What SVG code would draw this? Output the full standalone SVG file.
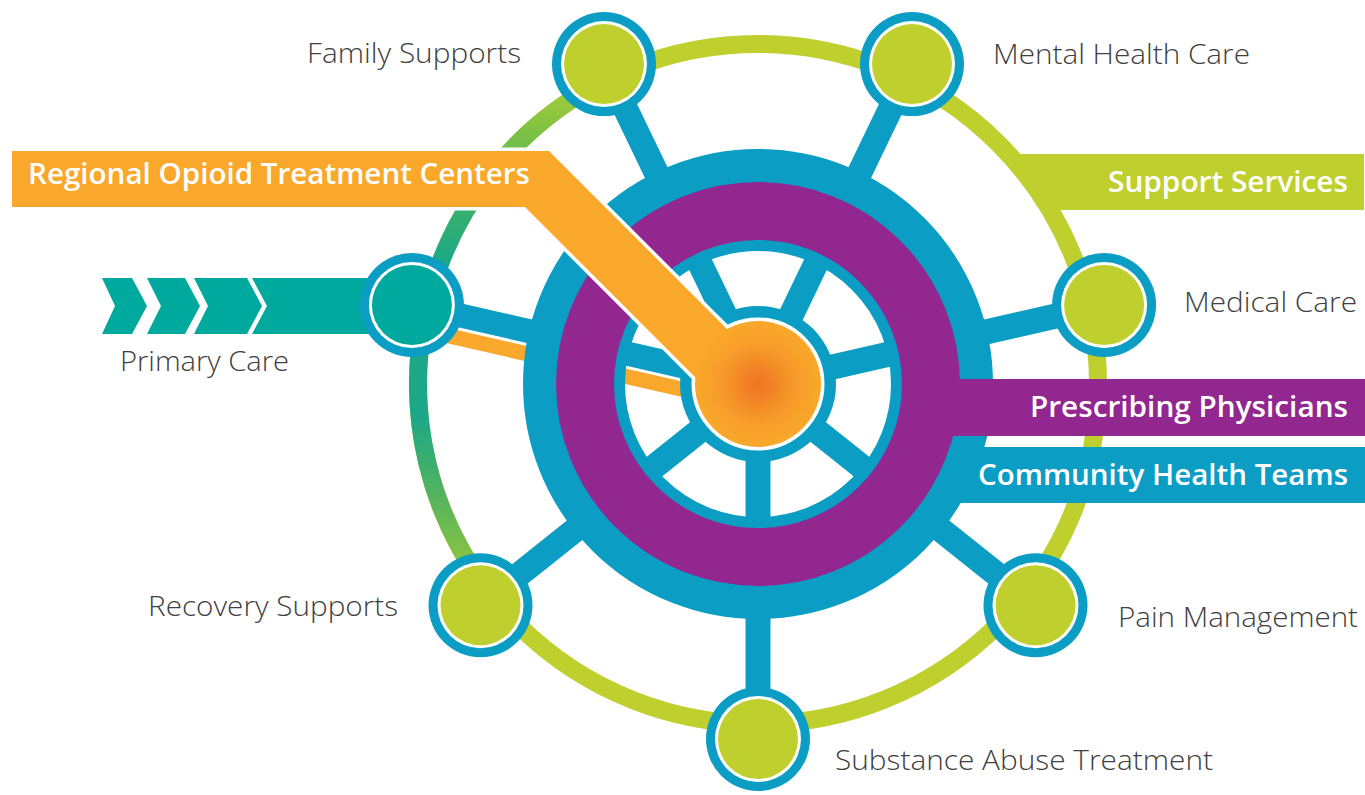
<svg xmlns="http://www.w3.org/2000/svg" width="1365" height="795" viewBox="0 0 1365 795">
<defs>
<linearGradient id="arcGrad" gradientUnits="userSpaceOnUse" x1="0" y1="84" x2="0" y2="589">
<stop offset="0" stop-color="#a8cd38"/>
<stop offset="0.09" stop-color="#80c242"/>
<stop offset="0.23" stop-color="#3cb26a"/>
<stop offset="0.36" stop-color="#1ba889"/>
<stop offset="0.66" stop-color="#1ca888"/>
<stop offset="0.82" stop-color="#55b45c"/>
<stop offset="1" stop-color="#a2ca3a"/>
</linearGradient>
<radialGradient id="hubGrad" cx="0.5" cy="0.5" r="0.5">
<stop offset="0" stop-color="#ee7322"/>
<stop offset="0.65" stop-color="#f79e2a"/>
<stop offset="1" stop-color="#f9a82b"/>
</radialGradient>
<style>
.blue{fill:#0b9dc4}
.lime{fill:#bfd02e}
.spoke{stroke:#0b9dc4;stroke-width:25;stroke-linecap:butt;fill:none}
.lbl{font-family:"Open Sans","Liberation Sans",sans-serif;font-weight:300;font-size:28px;fill:#404040}
.bar{font-family:"Open Sans","Liberation Sans",sans-serif;font-weight:600;font-size:29px;fill:#ffffff}
.nodeOuter{fill:#0b9dc4}
.nodeWhite{fill:#ffffff}
</style>
</defs>
<rect width="1365" height="795" fill="#ffffff"/>

<!-- outer ring -->
<g id="outer-ring">
<circle cx="758" cy="384" r="340" fill="none" stroke="#bfd02e" stroke-width="18"/>
<path d="M598.4,83.8 A340,340 0 0 0 486.5,588.6" fill="none" stroke="url(#arcGrad)" stroke-width="18"/>
</g>

<g id="support-services">
<polygon class="lime" points="1008,154 1364,154 1364,210 1050,210"/>
<text class="bar" x="1108" y="192" textLength="240" lengthAdjust="spacingAndGlyphs">Support Services</text>
</g>

<g id="primary-care-arrow">
<polygon fill="#00a99d" points="102,278 132,278 147,306 132,334 102,334 115,306"/>
<polygon fill="#00a99d" points="147,278 185,278 200,306 185,334 147,334 161,306"/>
<polygon fill="#00a99d" points="194,278 247,278 262,306 247,334 194,334 208,306"/>
<polygon fill="#00a99d" points="252,278 412,278 412,334 252,334 267,306"/>
</g>

<g id="connectors">
<line class="spoke" x1="758" y1="384" x2="758" y2="739"/>
<line class="spoke" x1="758" y1="384" x2="1035.5" y2="605.3"/>
<line class="spoke" x1="758" y1="384" x2="1104.1" y2="305"/>
<line class="spoke" x1="758" y1="384" x2="912" y2="64.1"/>
<line class="spoke" x1="758" y1="384" x2="604" y2="64.1"/>
<line class="spoke" x1="758" y1="384" x2="411.9" y2="305"/>
<line class="spoke" x1="758" y1="384" x2="480.5" y2="605.3"/>
<line x1="407.1" y1="326.4" x2="753.1" y2="405.4" stroke="#ffffff" stroke-width="21"/>
<line x1="407.1" y1="326.4" x2="753.1" y2="405.4" stroke="#f9a82b" stroke-width="15"/>
</g>

<g id="community-health-teams">
<rect class="blue" x="940" y="447" width="425" height="56"/>
<circle cx="758" cy="384" r="184" fill="none" stroke="#0b9dc4" stroke-width="102"/>
<text class="bar" x="978" y="485" textLength="370" lengthAdjust="spacingAndGlyphs">Community Health Teams</text>
</g>

<g id="prescribing-physicians">
<circle cx="758" cy="384" r="173" fill="none" stroke="#92278f" stroke-width="58"/>
<rect x="925" y="379" width="440" height="57" fill="#92278f"/>
<text class="bar" x="1030" y="417" textLength="318" lengthAdjust="spacingAndGlyphs">Prescribing Physicians</text>
</g>

<g id="regional-opioid-treatment-centers">
<circle cx="758" cy="384" r="78" class="blue"/>
<g fill="#ffffff" stroke="#ffffff" stroke-width="7" stroke-linejoin="miter">
<polygon points="12,151 549,151 745,347 700,382 525,207 12,207"/>
<circle cx="758" cy="384" r="63"/>
</g>
<polygon points="12,151 549,151 745,347 700,382 525,207 12,207" fill="#f9a82b"/>
<circle cx="758" cy="384" r="63" fill="url(#hubGrad)"/>
<text class="bar" x="28" y="184" textLength="502" lengthAdjust="spacingAndGlyphs">Regional Opioid Treatment Centers</text>
</g>

<g id="node-family-supports">
<circle class="nodeOuter" cx="604" cy="64.1" r="52"/>
<circle class="nodeWhite" cx="604" cy="64.1" r="43"/>
<circle class="lime" cx="604" cy="64.1" r="40"/>
<text class="lbl" x="307" y="63" textLength="214" lengthAdjust="spacingAndGlyphs">Family Supports</text>
</g>

<g id="node-mental-health-care">
<circle class="nodeOuter" cx="912" cy="64.1" r="52"/>
<circle class="nodeWhite" cx="912" cy="64.1" r="43"/>
<circle class="lime" cx="912" cy="64.1" r="40"/>
<text class="lbl" x="993" y="64" textLength="257" lengthAdjust="spacingAndGlyphs">Mental Health Care</text>
</g>

<g id="node-medical-care">
<circle class="nodeOuter" cx="1104.1" cy="305" r="52"/>
<circle class="nodeWhite" cx="1104.1" cy="305" r="43"/>
<circle class="lime" cx="1104.1" cy="305" r="40"/>
<text class="lbl" x="1184" y="312" textLength="173" lengthAdjust="spacingAndGlyphs">Medical Care</text>
</g>

<g id="node-primary-care">
<circle class="nodeOuter" cx="411.9" cy="305" r="52"/>
<circle class="nodeWhite" cx="411.9" cy="305" r="43"/>
<circle fill="#00a99d" cx="411.9" cy="305" r="40"/>
<text class="lbl" x="120" y="371" textLength="169" lengthAdjust="spacingAndGlyphs">Primary Care</text>
</g>

<g id="node-recovery-supports">
<circle class="nodeOuter" cx="480.5" cy="605.3" r="52"/>
<circle class="nodeWhite" cx="480.5" cy="605.3" r="43"/>
<circle class="lime" cx="480.5" cy="605.3" r="40"/>
<text class="lbl" x="148" y="616" textLength="250" lengthAdjust="spacingAndGlyphs">Recovery Supports</text>
</g>

<g id="node-pain-management">
<circle class="nodeOuter" cx="1035.5" cy="605.3" r="52"/>
<circle class="nodeWhite" cx="1035.5" cy="605.3" r="43"/>
<circle class="lime" cx="1035.5" cy="605.3" r="40"/>
<text class="lbl" x="1118" y="627" textLength="240" lengthAdjust="spacingAndGlyphs">Pain Management</text>
</g>

<g id="node-substance-abuse-treatment">
<circle class="nodeOuter" cx="758" cy="739" r="52"/>
<circle class="nodeWhite" cx="758" cy="739" r="43"/>
<circle class="lime" cx="758" cy="739" r="40"/>
<text class="lbl" x="835" y="770" textLength="378" lengthAdjust="spacingAndGlyphs">Substance Abuse Treatment</text>
</g>
</svg>
